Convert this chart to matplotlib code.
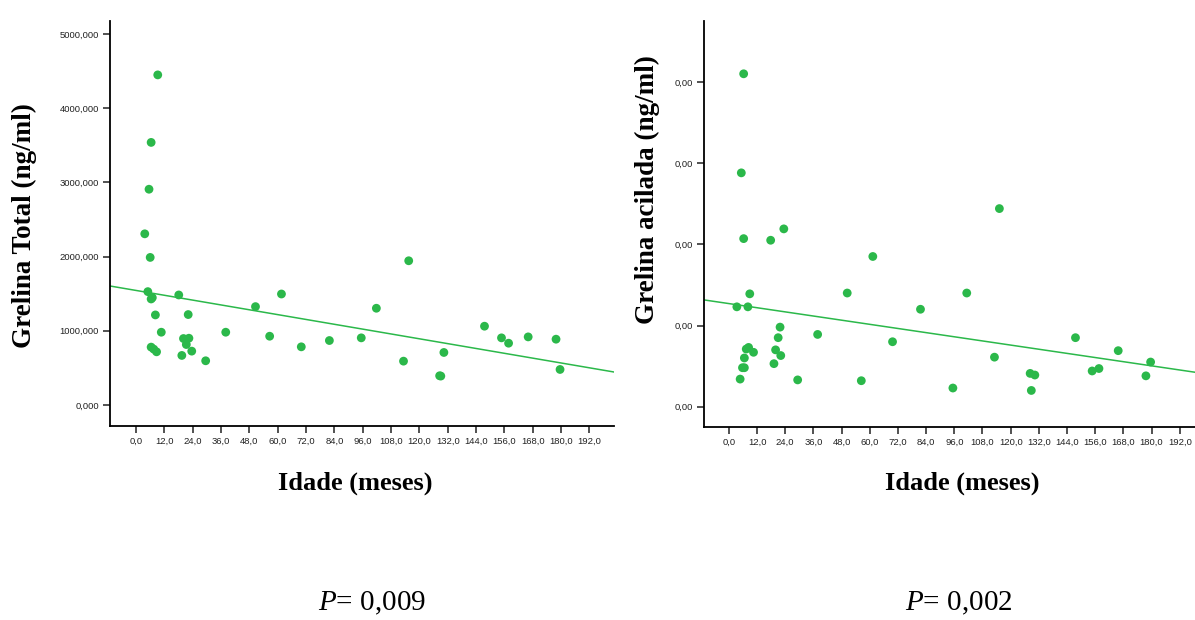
import matplotlib
matplotlib.use('Agg')
import matplotlib.pyplot as plt
from matplotlib.ticker import FuncFormatter

plt.rcParams['mathtext.fontset'] = 'custom'
plt.rcParams['mathtext.it'] = 'Liberation Serif:italic'
plt.rcParams['mathtext.rm'] = 'Liberation Serif'

# idade (meses) x grelina total (ng/ml)
idade_total = [9.2, 6.4, 5.5, 3.7, 6.0, 5.0, 6.9, 6.4, 8.2, 10.7,
               6.4, 7.5, 8.7, 18.1, 22.1, 20.1, 22.4, 21.3, 23.6, 19.4,
               29.5, 38.0, 50.6, 56.6, 61.6, 70.0, 81.9, 95.4, 101.8, 113.3,
               115.5, 128.6, 129.1, 130.4, 147.6, 154.8, 157.8, 166.1, 177.9, 179.6]
grelina_total = [4449, 3539, 2908, 2307, 1989, 1528, 1447, 1429, 1214, 981,
                 780, 753, 717, 1483, 1219, 896, 900, 815, 726, 668,
                 596, 981, 1326, 927, 1496, 784, 869, 905, 1304, 591,
                 1944, 394, 390, 708, 1062, 905, 833, 918, 887, 479]

# idade (meses) x grelina acilada (ng/ml)
idade_acil = [6.3, 5.3, 6.3, 17.8, 23.4, 61.3, 115.2, 8.9, 3.4, 8.1,
              50.4, 101.3, 81.6, 21.8, 37.8, 21.0, 69.7, 7.4, 8.4, 10.5,
              19.9, 22.1, 6.6, 19.2, 5.8, 6.6, 4.8, 29.3, 56.4, 95.4,
              113.1, 128.3, 130.3, 128.8, 147.6, 154.7, 157.6, 165.8, 177.6, 179.6]
grelina_acil = [0.00410, 0.00288, 0.00207, 0.00205, 0.00219, 0.00185, 0.00244, 0.00139, 0.00123, 0.00123,
                0.00140, 0.00140, 0.00120, 0.00098, 0.00089, 0.00085, 0.00080, 0.00071, 0.00073, 0.00067,
                0.00070, 0.00063, 0.00060, 0.00053, 0.00048, 0.00048, 0.00034, 0.00033, 0.00032, 0.00023,
                0.00061, 0.00041, 0.00039, 0.00020, 0.00085, 0.00044, 0.00047, 0.00069, 0.00038, 0.00055]

# reta de regressao (intercepto, inclinacao)
reta_total = (1544.0, -5.43)
reta_acil = (0.00127, -0.00000426)

p_valores = ['0,009', '0,002']
x_ticks = list(range(0, 193, 12))

verde = '#2bb84a'


def fmt(dec):
    return FuncFormatter(lambda v, pos: f'{v:.{dec}f}'.replace('.', ','))


def desenha(ax, x, y, reta, xlim, ylim, yticks, ydec, ylabel):
    ax.scatter(x, y, s=40, color=verde, edgecolors='none', zorder=3)
    a, b = reta
    ax.plot(xlim, [a + b * xlim[0], a + b * xlim[1]], color=verde, lw=1.1, zorder=2)
    ax.set_xlim(xlim)
    ax.set_ylim(ylim)
    ax.set_xticks(x_ticks)
    ax.set_yticks(yticks)
    ax.xaxis.set_major_formatter(fmt(1))
    ax.yaxis.set_major_formatter(fmt(ydec))
    for s in ['top', 'right']:
        ax.spines[s].set_visible(False)
    for s in ['left', 'bottom']:
        ax.spines[s].set_linewidth(1.3)
    ax.tick_params(direction='out', length=5, width=1.2, color='#333333',
                   labelsize=6.8, labelcolor='#222222', pad=3)
    ax.set_ylabel(ylabel, fontsize=19.5, fontweight='bold', family='Liberation Serif')
    ax.set_xlabel('Idade (meses)', fontsize=19, fontweight='bold', family='Liberation Serif')
    for lab in ax.get_xticklabels() + ax.get_yticklabels():
        lab.set_family('Liberation Sans')


fig = plt.figure(figsize=(11.95, 6.2), dpi=100)
ax1 = fig.add_axes([0.0921, 0.3129, 0.4218, 0.6532])
ax2 = fig.add_axes([0.5891, 0.3113, 0.4109, 0.6548])

desenha(ax1, idade_total, grelina_total, reta_total, (-11.0, 202.5), (-283, 5175),
        [0, 1000, 2000, 3000, 4000, 5000], 3, 'Grelina Total (ng/ml)')
ax1.yaxis.set_label_coords(-0.145, 0.496)
ax1.xaxis.set_label_coords(0.486, -0.112)

desenha(ax2, idade_acil, grelina_acil, reta_acil, (-10.6, 198.5), (-0.00025, 0.00475),
        [0, 0.001, 0.002, 0.003, 0.004], 2, 'Grelina acilada (ng/ml)')
ax2.yaxis.set_label_coords(-0.09, 0.584)
ax2.xaxis.set_label_coords(0.527, -0.110)

fig.text(0.311, 0.016, r'$\mathit{P}$= ' + p_valores[0], fontsize=21,
         family='Liberation Serif', ha='center', va='baseline')
fig.text(0.802, 0.016, r'$\mathit{P}$= ' + p_valores[1], fontsize=21,
         family='Liberation Serif', ha='center', va='baseline')

fig.savefig('out.png', dpi=100)
